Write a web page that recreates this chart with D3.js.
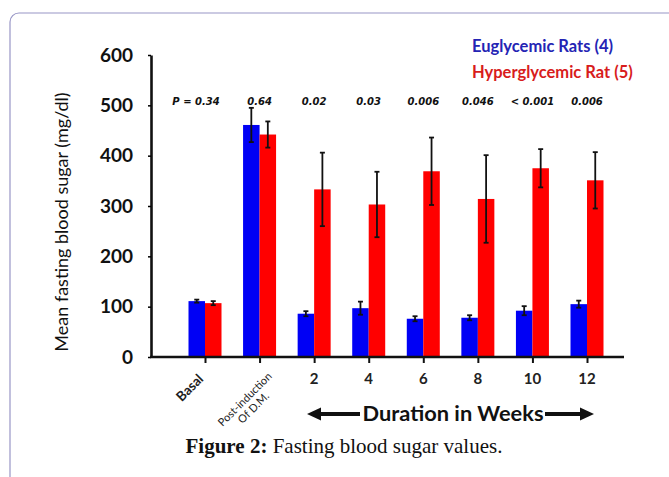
<!DOCTYPE html>
<html>
<head>
<meta charset="utf-8">
<script src="https://cdn.jsdelivr.net/npm/d3@7"></script>
<style>
  body { margin: 0; background: #fff; }
  svg { display: block; }
</style>
</head>
<body>
<div id="container"></div>
<script>
const w = 669;
const h = 477;

// data
const categories = ["Basal", "Post-induction", "2", "4", "6", "8", "10", "12"];
const euMeans = [111, 461, 86, 97, 76, 78, 92, 105];
const euErr = [3, 34, 5, 13, 5, 5, 9, 7];
const hyMeans = [107, 442, 333, 303, 369, 314, 375, 351];
const hyErr = [4, 26, 73, 65, 67, 87, 38, 56];
const pValues = ["P = 0.34", "0.64", "0.02", "0.03", "0.006", "0.046", "< 0.001", "0.006"];
const yTicks = [0, 100, 200, 300, 400, 500, 600];
const seriesNames = ["Euglycemic Rats (4)", "Hyperglycemic Rat (5)"];

const blue = "#0000f5";
const red = "#ff0000";
const axisX = 151;
const barW = 16.5;

const svg = d3.select("#container").append("svg")
  .attr("width", w).attr("height", h);

// page frame
svg.append("rect")
  .attr("x", 10).attr("y", 13)
  .attr("width", 720).attr("height", 520)
  .attr("rx", 9)
  .attr("fill", "none")
  .attr("stroke", "#9896c6")
  .attr("stroke-width", 1.2);

const x = d3.scalePoint().domain(categories).range([205, 587]);
const y = d3.scaleLinear().domain([0, 600]).range([357, 55]);

const rows = categories.map((c, i) => ({
  cat: c, eu: euMeans[i], euE: euErr[i], hy: hyMeans[i], hyE: hyErr[i], p: pValues[i]
}));

// bars
svg.selectAll("rect.eu").data(rows).enter().append("rect")
  .attr("class", "eu")
  .attr("x", d => x(d.cat) - barW)
  .attr("y", d => y(d.eu))
  .attr("width", barW)
  .attr("height", d => y(0) - y(d.eu))
  .attr("fill", blue);

svg.selectAll("rect.hy").data(rows).enter().append("rect")
  .attr("class", "hy")
  .attr("x", d => x(d.cat))
  .attr("y", d => y(d.hy))
  .attr("width", barW)
  .attr("height", d => y(0) - y(d.hy))
  .attr("fill", red);

// error bars
function errBars(cls, cx, mean, err) {
  const g = svg.selectAll("g." + cls).data(rows).enter().append("g")
    .attr("class", cls)
    .attr("stroke", "#111")
    .attr("stroke-width", 1.8);
  g.append("line")
    .attr("x1", cx).attr("x2", cx)
    .attr("y1", d => y(mean(d) + err(d)))
    .attr("y2", d => y(mean(d) - err(d)));
  [1, -1].forEach(s => {
    g.append("line")
      .attr("x1", d => cx(d) - 2.5).attr("x2", d => cx(d) + 2.5)
      .attr("y1", d => y(mean(d) + s * err(d)))
      .attr("y2", d => y(mean(d) + s * err(d)));
  });
}
errBars("eue", d => x(d.cat) - barW / 2, d => d.eu, d => d.euE);
errBars("hye", d => x(d.cat) + barW / 2, d => d.hy, d => d.hyE);

// y axis
const yAxis = d3.axisLeft(y).tickValues(yTicks).tickSize(3).tickSizeOuter(0).tickPadding(15);
const yG = svg.append("g")
  .attr("transform", "translate(" + axisX + ",0)")
  .call(yAxis);
yG.select(".domain").attr("stroke-width", 2.6).attr("stroke", "#111");
yG.selectAll(".tick line").attr("stroke-width", 1.5);
yG.selectAll(".tick text")
  .attr("font-family", "Lato, sans-serif")
  .attr("font-weight", "bold")
  .attr("font-size", 19)
  .attr("fill", "#111");

// x axis
const xAxis = d3.axisBottom(x).tickSize(6).tickSizeOuter(0).tickFormat("");
const xG = svg.append("g")
  .attr("transform", "translate(0," + y(0) + ")")
  .call(xAxis);
xG.select(".domain").remove();
xG.selectAll(".tick line").attr("stroke-width", 2).attr("stroke", "#111");
svg.append("line")
  .attr("x1", axisX - 1).attr("x2", x("12") + 37)
  .attr("y1", y(0)).attr("y2", y(0))
  .attr("stroke", "#111").attr("stroke-width", 2.4);

// category labels
const weekCats = categories.slice(2);
svg.selectAll("text.wk").data(weekCats).enter().append("text")
  .attr("class", "wk")
  .attr("x", d => x(d))
  .attr("y", y(0) + 27)
  .attr("text-anchor", "middle")
  .attr("font-family", "Lato, sans-serif")
  .attr("font-weight", "bold")
  .attr("font-size", 15)
  .attr("fill", "#222")
  .text(d => d);

svg.append("text")
  .attr("transform", "translate(" + (x("Basal") - 12) + "," + (y(0) + 34) + ") rotate(-45)")
  .attr("text-anchor", "middle")
  .attr("font-family", "Lato, sans-serif")
  .attr("font-weight", "bold")
  .attr("font-size", 13.5)
  .attr("fill", "#222")
  .text("Basal");

const post = svg.append("g")
  .attr("transform", "translate(" + (x("Post-induction") - 12) + "," + (y(0) + 45) + ") rotate(-45)")
  .attr("font-family", "Lato, sans-serif")
  .attr("font-size", 11)
  .attr("fill", "#222")
  .attr("text-anchor", "middle");
post.append("text").attr("y", 0).text("Post-induction");
post.append("text").attr("y", 12).text("Of D.M.");

// p-values
svg.selectAll("text.pv").data(rows).enter().append("text")
  .attr("class", "pv")
  .attr("x", (d, i) => i === 0 ? x(d.cat) - 9 : x(d.cat))
  .attr("y", 104.5)
  .attr("text-anchor", "middle")
  .attr("font-family", "DejaVu Sans, sans-serif")
  .attr("font-weight", "bold")
  .attr("font-style", "italic")
  .attr("font-size", 10)
  .attr("fill", "#111")
  .text(d => d.p);

// legend
svg.selectAll("text.lg").data(seriesNames).enter().append("text")
  .attr("class", "lg")
  .attr("x", 472)
  .attr("y", (d, i) => 52 + i * 26)
  .attr("font-family", "Lato, sans-serif")
  .attr("font-weight", "bold")
  .attr("font-size", 16.5)
  .attr("fill", (d, i) => i === 0 ? "#2424b4" : "#d81c1c")
  .text(d => d);

// y axis title
svg.append("text")
  .attr("transform", "translate(68," + 222 + ") rotate(-90)")
  .attr("text-anchor", "middle")
  .attr("font-family", "Lato, sans-serif")
  .attr("font-size", 18)
  .attr("fill", "#111")
  .text("Mean fasting blood sugar (mg/dl)");

// duration arrows
const arrowY = 414;
const dur = svg.append("g");
dur.append("text")
  .attr("x", 453).attr("y", arrowY + 7)
  .attr("text-anchor", "middle")
  .attr("font-family", "Lato, sans-serif")
  .attr("font-weight", "bold")
  .attr("font-size", 21)
  .attr("textLength", 181)
  .attr("lengthAdjust", "spacingAndGlyphs")
  .attr("fill", "#111")
  .text("Duration in Weeks");
dur.append("line")
  .attr("x1", 318).attr("x2", 360).attr("y1", arrowY).attr("y2", arrowY)
  .attr("stroke", "#111").attr("stroke-width", 4);
dur.append("path")
  .attr("d", "M307," + arrowY + " L321," + (arrowY - 6.5) + " L321," + (arrowY + 6.5) + "Z")
  .attr("fill", "#111");
dur.append("line")
  .attr("x1", 545).attr("x2", 582).attr("y1", arrowY).attr("y2", arrowY)
  .attr("stroke", "#111").attr("stroke-width", 4);
dur.append("path")
  .attr("d", "M594," + arrowY + " L580," + (arrowY - 6.5) + " L580," + (arrowY + 6.5) + "Z")
  .attr("fill", "#111");

// caption
const cap = svg.append("text")
  .attr("x", 344).attr("y", 453)
  .attr("text-anchor", "middle")
  .attr("font-family", "Liberation Serif, Times New Roman, serif")
  .attr("font-size", 21)
  .attr("fill", "#111");
cap.append("tspan").attr("font-weight", "bold").text("Figure 2:");
cap.append("tspan").text(" Fasting blood sugar values.");
</script>
</body>
</html>
